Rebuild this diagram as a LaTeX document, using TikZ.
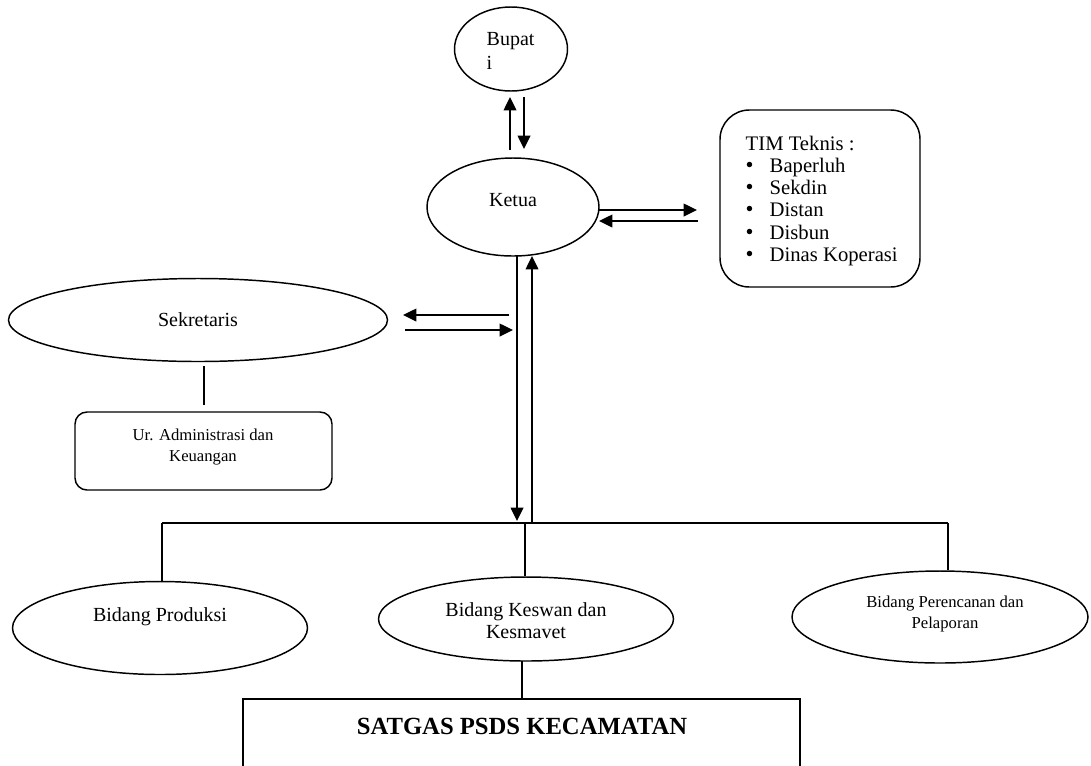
\documentclass[tikz,border=0pt]{standalone}
\usepackage{fontspec}
\setmainfont{Liberation Serif}
\usetikzlibrary{shapes.geometric,arrows.meta}
\newcommand{\tbul}{\makebox[18pt][l]{\fontsize{17}{17}\selectfont •}}
\begin{document}
\begin{tikzpicture}[x=0.75pt,y=-0.75pt,line width=1.1pt,
  oval/.style={draw,ellipse,inner sep=0pt},
  roundbox/.style={draw,rectangle,inner sep=0pt},
  txt/.style={font=\fontsize{15}{16.5}\selectfont,align=center,inner sep=0pt},
  smalltxt/.style={font=\fontsize{12.5}{14.5}\selectfont,align=center,inner sep=0pt},
  listtxt/.style={font=\fontsize{15.5}{17}\selectfont,anchor=base west,inner sep=0pt},
  arr/.style={-{Triangle[length=10pt,width=9.5pt]}}]
\useasboundingbox (0,0) rectangle (1091,765);

% shapes
\node[oval,minimum width=84.75pt,minimum height=63pt] (bupati) at (511,49) {};
\node[oval,minimum width=129pt,minimum height=73.5pt] (ketua) at (513,207) {};
\node[roundbox,rounded corners=22pt,minimum width=150pt,minimum height=132.75pt] (tim) at (820,198.5) {};
\node[oval,minimum width=284.25pt,minimum height=62.25pt] (sekretaris) at (198,320) {};
\node[roundbox,rounded corners=9pt,minimum width=192.75pt,minimum height=58.5pt] (ur) at (203.5,451) {};
\node[oval,minimum width=221.25pt,minimum height=69.75pt] (produksi) at (160,628) {};
\node[oval,minimum width=221.25pt,minimum height=63pt] (keswan) at (526,619) {};
\node[oval,minimum width=222pt,minimum height=69pt] (perencanan) at (940,617) {};

% texts
\node[txt,align=left,anchor=west,font=\fontsize{15}{18}\selectfont] (tbupati) at (486,51) {Bupat\\i};
\node[txt] (tketua) at (513,200) {Ketua};
\node[listtxt] (tim0) at (745,150) {TIM Teknis :};
\node[listtxt] (tim1) at (745,172) {\tbul Baperluh};
\node[listtxt] (tim2) at (745,194) {\tbul Sekdin};
\node[listtxt] (tim3) at (745,216.5) {\tbul Distan};
\node[listtxt] (tim4) at (745,239) {\tbul Disbun};
\node[listtxt] (tim5) at (745,261.5) {\tbul Dinas Koperasi};
\node[txt] (tsek) at (198,320) {Sekretaris};
\node[smalltxt,font=\fontsize{12.5}{15.5}\selectfont] (tur) at (203,447) {Ur. Administrasi dan\\Keuangan};
\node[txt] (tprod) at (160,617) {Bidang Produksi};
\node[txt,font=\fontsize{15}{16.5}\selectfont] (tkes) at (526,621) {Bidang Keswan dan\\Kesmavet};
\node[smalltxt,font=\fontsize{12.5}{15.5}\selectfont] (tper) at (945,614) {Bidang Perencanan dan\\Pelaporan};
\node[inner sep=0pt,font=\fontsize{18.5}{20}\selectfont\bfseries] (satgas) at (522,726) {SATGAS PSDS KECAMATAN};

% coordinates for connector ends
\coordinate (bk1s) at (510,150); \coordinate (bk1e) at (510,97);
\coordinate (bk2s) at (524,97);  \coordinate (bk2e) at (524,149);
\coordinate (kt1s) at (599,210); \coordinate (kt1e) at (697,210);
\coordinate (kt2s) at (698,221); \coordinate (kt2e) at (599,221);
\coordinate (kd1s) at (517,256); \coordinate (kd1e) at (517,521);
\coordinate (kd2s) at (532,522); \coordinate (kd2e) at (532,256);
\coordinate (ks1s) at (509,315); \coordinate (ks1e) at (403,315);
\coordinate (ks2s) at (405,330); \coordinate (ks2e) at (513,330);
\coordinate (su1) at (204,366);  \coordinate (su2) at (204,405);
\coordinate (busL) at (162,523); \coordinate (busM) at (525,523); \coordinate (busR) at (948,523);
\coordinate (kesb) at (522,661); \coordinate (satt) at (522,699);
\coordinate (sbl) at (243,768); \coordinate (stl) at (243,699);
\coordinate (str) at (800,699);  \coordinate (sbr) at (800,768);

% connectors
\draw[arr] (bk1s) -- (bk1e);
\draw[arr] (bk2s) -- (bk2e);
\draw[arr] (kt1s) -- (kt1e);
\draw[arr] (kt2s) -- (kt2e);
\draw[arr] (kd1s) -- (kd1e);
\draw[arr] (kd2s) -- (kd2e);
\draw[arr] (ks1s) -- (ks1e);
\draw[arr] (ks2s) -- (ks2e);
\draw (su1) -- (su2);
\draw (busL) -- (busR);
\draw (busL) -- (busL |- produksi.north);
\draw (busM) -- (busM |- keswan.north);
\draw (busR) -- (busR |- perencanan.north);
\draw (kesb) -- (satt);
\draw (sbl) -- (stl) -- (str) -- (sbr);
\end{tikzpicture}
\end{document}
